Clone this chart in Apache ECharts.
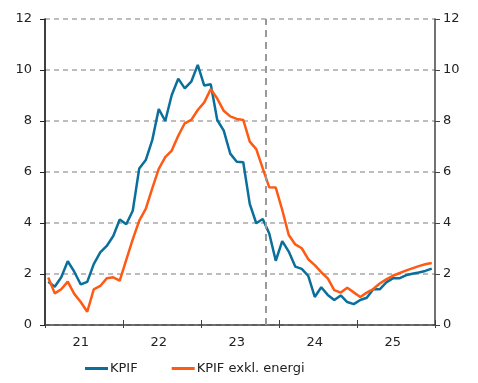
<!DOCTYPE html>
<html>
<head>
<meta charset="utf-8">
<script src="https://cdn.jsdelivr.net/npm/echarts@6/dist/echarts.min.js"></script>
<style>
  html, body { margin: 0; padding: 0; background: #fff; }
  #chart { width: 478px; height: 383px; }
</style>
</head>
<body>
<div id="chart"></div>
<script>
// Monthly observations Jan 2021 - Dec 2025 (annual percentage change)
const months = [];
for (let y = 2021; y <= 2025; y++) {
  for (let m = 1; m <= 12; m++) months.push(y + '-' + String(m).padStart(2, '0'));
}

const kpif = [
  1.7, 1.5, 1.87, 2.5, 2.09, 1.59, 1.69, 2.39, 2.85, 3.1, 3.49, 4.14,
  3.95, 4.48, 6.14, 6.47, 7.25, 8.47, 8.0, 9.02, 9.66, 9.28, 9.54, 10.2,
  9.39, 9.44, 8.04, 7.62, 6.72, 6.4, 6.38, 4.75, 3.99, 4.16, 3.59, 2.52,
  3.29, 2.88, 2.29, 2.2, 1.93, 1.1, 1.48, 1.18, 0.98, 1.16, 0.9, 0.82,
  0.98, 1.07, 1.4, 1.4, 1.67, 1.83, 1.83, 1.95, 2.01, 2.06, 2.12, 2.21
];

const kpifExEnergy = [
  1.86, 1.24, 1.4, 1.7, 1.22, 0.9, 0.52, 1.4, 1.53, 1.83, 1.87, 1.74,
  2.55, 3.36, 4.09, 4.55, 5.36, 6.12, 6.58, 6.84, 7.42, 7.91, 8.04, 8.43,
  8.73, 9.25, 8.88, 8.4, 8.18, 8.08, 8.04, 7.19, 6.9, 6.14, 5.4, 5.39,
  4.51, 3.53, 3.16, 3.01, 2.58, 2.35, 2.07, 1.83, 1.37, 1.27, 1.46, 1.28,
  1.1, 1.27, 1.41, 1.63, 1.79, 1.93, 2.03, 2.13, 2.22, 2.31, 2.38, 2.43
];

const seriesNames = ['KPIF', 'KPIF exkl. energi'];
const seriesColors = ['#0B6F9C', '#FF5A14'];
const yTicks = { min: 0, max: 12, interval: 2 };
const forecastStart = 34; // months from Jan 2021 where the dashed divider sits

const font = "'DejaVu Sans', Verdana, sans-serif";
const toPoints = arr => arr.map((v, i) => [i + 0.5, v]);

const chart = echarts.init(document.getElementById('chart'), null, { renderer: 'canvas' });

chart.setOption({
  animation: false,
  backgroundColor: '#fff',
  textStyle: { fontFamily: font },
  grid: { left: 45, right: 43, top: 19, bottom: 58, containLabel: false },
  legend: {
    data: seriesNames.map((n, i) => ({ name: n, itemStyle: { color: seriesColors[i] } })),
    left: 80,
    bottom: 3,
    icon: 'rect',
    itemWidth: 23,
    itemHeight: 3,
    itemGap: 34,
    textStyle: { fontFamily: font, fontSize: 13, color: '#222', padding: [0, 0, 0, -3] }
  },
  xAxis: [
    {
      type: 'value',
      min: 0,
      max: 60,
      interval: 12,
      axisLine: { show: true, onZero: false, lineStyle: { color: '#404040', width: 1.5 } },
      axisTick: { show: true, inside: true, length: 5, lineStyle: { color: '#404040', width: 1 } },
      axisLabel: { show: false },
      splitLine: { show: false }
    },
    {
      type: 'category',
      data: months,
      position: 'bottom',
      boundaryGap: true,
      axisLine: { show: false },
      axisTick: {
        show: true,
        length: 3,
        interval: i => i % 12 === 0,
        lineStyle: { color: '#404040', width: 1 }
      },
      axisLabel: {
        interval: i => i % 12 === 5,
        formatter: v => v.slice(2, 4),
        margin: 11,
        fontFamily: font,
        fontSize: 13,
        color: '#222'
      },
      splitLine: { show: false }
    }
  ],
  yAxis: [
    {
      type: 'value',
      position: 'left',
      min: yTicks.min,
      max: yTicks.max,
      interval: yTicks.interval,
      axisLine: { show: true, lineStyle: { color: '#000', width: 1.5 } },
      axisTick: { show: true, length: 5, lineStyle: { color: '#222', width: 1 } },
      axisLabel: { margin: 13, fontFamily: font, fontSize: 13, color: '#222' },
      splitLine: { show: true, lineStyle: { color: '#a8a8a8', width: 1.5, type: [5, 4] } }
    },
    {
      type: 'value',
      position: 'right',
      min: yTicks.min,
      max: yTicks.max,
      interval: yTicks.interval,
      axisLine: { show: true, lineStyle: { color: '#444', width: 1.5 } },
      axisTick: { show: true, length: 5, lineStyle: { color: '#444', width: 1 } },
      axisLabel: { margin: 8, fontFamily: font, fontSize: 13, color: '#222' },
      splitLine: { show: false }
    }
  ],
  series: [
    {
      name: seriesNames[0],
      type: 'line',
      xAxisIndex: 0,
      yAxisIndex: 0,
      data: toPoints(kpif),
      showSymbol: false,
      lineStyle: { color: seriesColors[0], width: 2.5 },
      itemStyle: { color: seriesColors[0] },
      z: 3,
      markLine: {
        silent: true,
        symbol: 'none',
        label: { show: false },
        lineStyle: { color: '#999', width: 2, type: [7, 5] },
        data: [{ xAxis: forecastStart }]
      }
    },
    {
      name: seriesNames[1],
      type: 'line',
      xAxisIndex: 0,
      yAxisIndex: 0,
      data: toPoints(kpifExEnergy),
      showSymbol: false,
      lineStyle: { color: seriesColors[1], width: 2.5 },
      itemStyle: { color: seriesColors[1] },
      z: 4
    }
  ]
});
</script>
</body>
</html>
